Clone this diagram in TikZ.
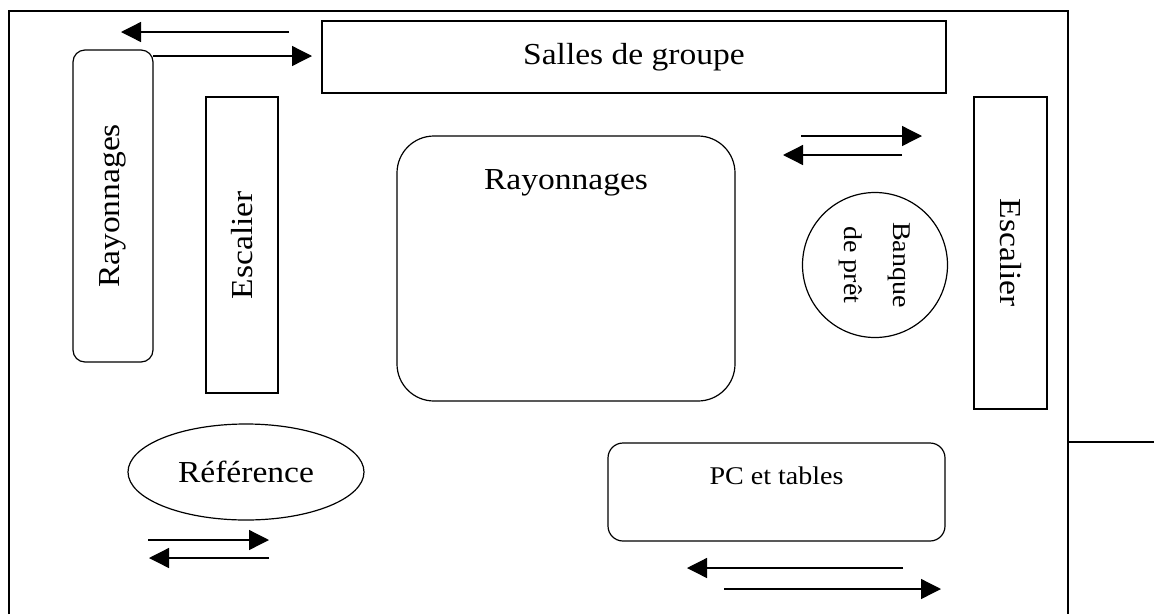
\documentclass[tikz,border=0pt]{standalone}
\usepackage{fontspec}
\setmainfont{Liberation Serif}[FakeStretch=1.1]
\usetikzlibrary{arrows.meta,shapes.geometric}

\begin{document}
\begin{tikzpicture}[x=1pt,y=-1pt,
  wall/.style={line width=2.2pt},
  box/.style={draw, line width=1.2pt, rectangle, inner sep=0pt},
  rbox/.style={box, rounded corners=#1},
  bigtxt/.style={font=\fontsize{30.5}{36}\selectfont, inner sep=0pt},
  smalltxt/.style={font=\fontsize{25.5}{40}\selectfont, inner sep=0pt, align=center},
  flow/.style={line width=1.3pt, -{Triangle[length=20pt,width=20pt]}}
]
\useasboundingbox (0,0) rectangle (1154,614);

% outer walls and the side partition
\coordinate (wbl) at (9,614);
\coordinate (wtl) at (9,11);
\coordinate (wtr) at (1068,11);
\coordinate (wbr) at (1068,614);
\coordinate (pl) at (1068,442);
\coordinate (pr) at (1154,442);
\draw[wall] (wbl) -- (wtl) -- (wtr) -- (wbr);
\draw[wall] (pl) -- (pr);

% rooms and furniture
\node[box, bigtxt, minimum width=624, minimum height=72] (salles) at (634,57) {Salles de groupe};
\node[rbox=12, bigtxt, rotate=90, minimum width=312, minimum height=80] (rayl) at (113,206) {Rayonnages};
\node[box, bigtxt, rotate=90, minimum width=296, minimum height=72] (escl) at (242,245) {Escalier};
\node[box, bigtxt, rotate=-90, minimum width=312, minimum height=73] (escr) at (1010.5,253) {Escalier};
\node[rbox=37, minimum width=338, minimum height=265] (rayc) at (566,268.5) {};
\node[bigtxt, anchor=base] (raycl) at (566,189) {Rayonnages};
\node[draw, circle, line width=1.2pt, smalltxt, rotate=-90, minimum size=145] (banque) at (875,265) {Banque\\[9pt]de prêt};
\node[draw, ellipse, line width=1.2pt, bigtxt, minimum width=236, minimum height=96] (ref) at (246,472) {Référence};
\node[rbox=15, minimum width=337, minimum height=98] (pc) at (776.5,492) {};
\node[smalltxt, anchor=base] (pcl) at (776.5,484) {PC et tables};

% circulation arrows
\coordinate (a1s) at (289,32);  \coordinate (a1e) at (121,32);
\coordinate (a2s) at (153,56);  \coordinate (a2e) at (312,56);
\coordinate (a3s) at (801,136); \coordinate (a3e) at (922,136);
\coordinate (a4s) at (902,155); \coordinate (a4e) at (783,155);
\coordinate (a5s) at (148,540); \coordinate (a5e) at (269,540);
\coordinate (a6s) at (269,558); \coordinate (a6e) at (149,558);
\coordinate (a7s) at (903,568); \coordinate (a7e) at (687,568);
\coordinate (a8s) at (724,589); \coordinate (a8e) at (941,589);
\foreach \k in {1,...,8} \draw[flow] (a\k s) -- (a\k e);
\end{tikzpicture}
\end{document}
